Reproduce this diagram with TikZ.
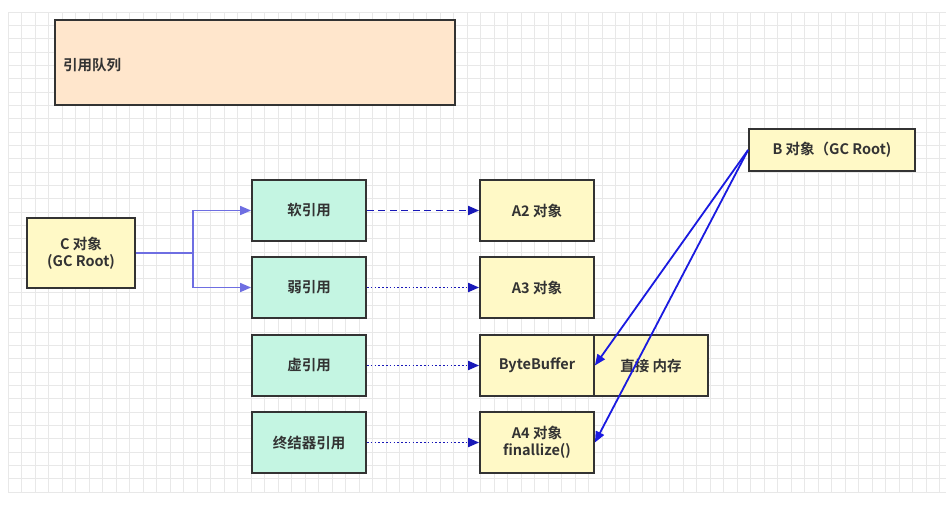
\documentclass[tikz,border=0pt]{standalone}
\usepackage{fontspec}
\setmainfont{Noto Sans CJK SC}[BoldFont={Noto Sans CJK SC Bold}]
\usetikzlibrary{arrows.meta}
\definecolor{gridc}{HTML}{E8E8E8}
\definecolor{qfill}{HTML}{FFE6CC}
\definecolor{yfill}{HTML}{FFF9C6}
\definecolor{gfill}{HTML}{C4F5E2}
\definecolor{edgec}{HTML}{333333}
\definecolor{txtc}{HTML}{333333}
\definecolor{purpc}{HTML}{6E6EE2}
\definecolor{darkb}{HTML}{1818B8}
\definecolor{blueb}{HTML}{1A1AE0}
\tikzset{
  lbl/.style={font=\bfseries\fontsize{14.5}{17}\selectfont, text=txtc},
  box/.style={draw=edgec, line width=1.8pt, lbl, align=center, inner sep=0pt},
  ybox/.style={box, fill=yfill},
  gbox/.style={box, fill=gfill, minimum width=114pt, minimum height=61pt},
  abox/.style={ybox, minimum width=114pt, minimum height=61pt},
  tip/.style={-{Triangle[length=11pt,width=9pt]}},
  carrow/.style={tip, draw=purpc, line width=1.6pt},
  dasharrow/.style={tip, draw=darkb, line width=1.8pt, dash pattern=on 7pt off 4.5pt},
  dotarrow/.style={tip, draw=darkb, line width=1.8pt, dash pattern=on 1.6pt off 2.2pt},
  barrow/.style={tip, draw=blueb, line width=1.8pt}
}
\begin{document}
\begin{tikzpicture}[x=1pt,y=-1pt]
\useasboundingbox (0,0) rectangle (946,507);
\fill[white] (0,0) rectangle (946,507);
\foreach \k in {0,...,69} \draw[gridc, line width=0.7pt] (8+13.5*\k,12) -- (8+13.5*\k,492);
\foreach \k in {0,...,36} \draw[gridc, line width=0.7pt] (8,12+13.33*\k) -- (946,12+13.33*\k);
% reference queue
\node[box, fill=qfill, minimum width=400pt, minimum height=85pt] (queue) at (255,62.5) {};
\node[lbl, anchor=west, inner sep=0pt] (qlabel) at (63,65) {引用队列};
% C
\node[ybox, minimum width=108pt, minimum height=70pt] (C) at (81,253) {C 对象\\(GC Root)};
% references
\node[gbox] (soft) at (309,210.5) {软引用};
\node[gbox] (weak) at (309,287.5) {弱引用};
\node[gbox] (phantom) at (309,365.5) {虚引用};
\node[gbox] (final) at (309,442.5) {终结器引用};
% objects
\node[abox] (A2) at (537,210.5) {A2 对象};
\node[abox] (A3) at (537,287.5) {A3 对象};
\node[abox] (bb) at (537,365.5) {ByteBuffer};
\node[abox] (mem) at (651,365.5) {直接 内存};
\node[abox] (A4) at (537,442.5) {A4 对象\\finallize()};
% B
\node[ybox, minimum width=166pt, minimum height=42pt] (B) at (832,150) {B 对象（GC Root)};
% connectors
\coordinate (split) at (193,253);
\draw[carrow] (C.east) -- (split) |- (soft.west);
\draw[carrow] (split) |- (weak.west);
\draw[dasharrow] (soft.east) -- (A2.west);
\draw[dotarrow] (weak.east) -- (A3.west);
\draw[dotarrow] (phantom.east) -- (bb.west);
\draw[dotarrow] (final.east) -- (A4.west);
\draw[barrow] (B.west) -- (bb.east);
\draw[barrow] (B.west) -- (A4.east);
\end{tikzpicture}
\end{document}
